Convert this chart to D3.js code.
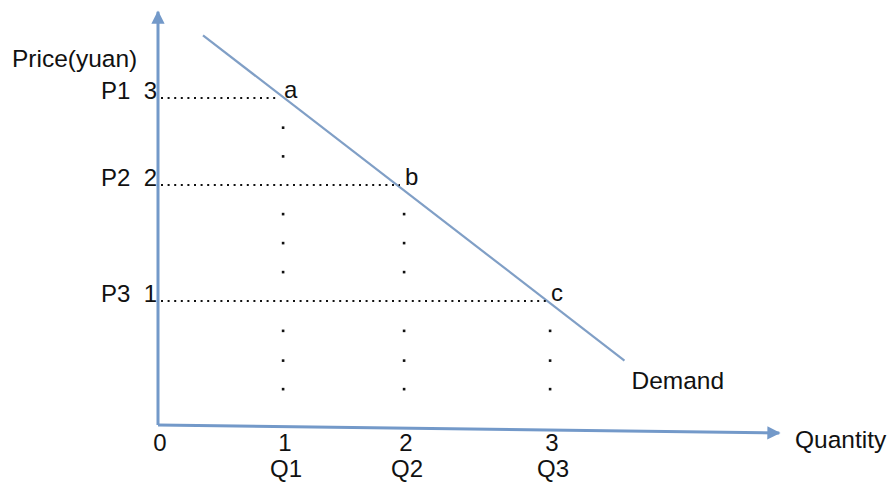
<!DOCTYPE html>
<html>
<head>
<meta charset="utf-8">
<script src="https://cdn.jsdelivr.net/npm/d3@7"></script>
<style>
  body { margin: 0; background: #fff; }
  text { font-family: "Liberation Sans", Arial, sans-serif; fill: #111; }
</style>
</head>
<body>
<svg id="svg"></svg>
<script>
// quantities and prices for the three marked points on the demand curve
var quantities = [1, 2, 3];
var prices = [3, 2, 1];
var pointNames = ["a", "b", "c"];
var priceNames = ["P1", "P2", "P3"];
var qtyNames = ["Q1", "Q2", "Q3"];

// demand line end points (quantity, price)
var demandQ = [0.36, 3.51];
var demandP = [3.72, 0.52];

// price levels where the vertical guide dots sit
var dotPrices = [2.66, 2.33, 1.75, 1.5, 1.25, 0.76, 0.52, 0.29];

// axis extents (quantity end of x axis, price end of y axis)
var axisQEnd = 4.57;
var axisPEnd = 3.99;
var axisDrop = -0.065; // the x axis sags slightly to the right

var width = 890, height = 482;
var axisColor = "#7399c9";

var svg = d3.select("#svg").attr("width", width).attr("height", height);

// hand drawn picture: spacing isn't even, so piecewise linear scales
var xScale = d3.scaleLinear().domain([0, 1, 2, 3]).range([158, 283, 404, 550]);
var yScale = d3.scaleLinear().domain([0, 1, 2, 3]).range([425, 301, 185, 98]);

var defs = svg.append("defs");
defs.append("marker")
    .attr("id", "arrow")
    .attr("viewBox", "0 0 10 10")
    .attr("refX", 9).attr("refY", 5)
    .attr("markerWidth", 4.6).attr("markerHeight", 4.4)
    .attr("markerUnits", "strokeWidth")
    .attr("orient", "auto")
    .append("path")
    .attr("d", "M0,0 L10,5 L0,10 Z")
    .attr("fill", axisColor);

var line = d3.line().x(d => xScale(d[0])).y(d => yScale(d[1]));

// axes
svg.append("path")
    .datum([[0, 0], [0, axisPEnd]])
    .attr("d", line)
    .attr("stroke", axisColor).attr("stroke-width", 3).attr("fill", "none")
    .attr("marker-end", "url(#arrow)");

svg.append("path")
    .datum([[0, 0], [axisQEnd, axisDrop]])
    .attr("d", line)
    .attr("stroke", axisColor).attr("stroke-width", 3).attr("fill", "none")
    .attr("marker-end", "url(#arrow)");

// demand line
svg.append("path")
    .datum([[demandQ[0], demandP[0]], [demandQ[1], demandP[1]]])
    .attr("d", line)
    .attr("stroke", "#809fc6").attr("stroke-width", 2.2).attr("fill", "none");

// horizontal dotted guides
svg.selectAll(".hguide")
    .data(quantities)
    .join("line")
    .attr("class", "hguide")
    .attr("x1", xScale(0) + 3)
    .attr("x2", (d, i) => xScale(d) - 4)
    .attr("y1", (d, i) => yScale(prices[i]))
    .attr("y2", (d, i) => yScale(prices[i]))
    .attr("stroke", "#111").attr("stroke-width", 2)
    .attr("stroke-dasharray", "2 4.6");

// vertical guide dots
var vdots = [];
quantities.forEach((q, i) => {
    dotPrices.filter(p => p < prices[i]).forEach(p => vdots.push({q: q, p: p}));
});
svg.selectAll(".vdot")
    .data(vdots)
    .join("rect")
    .attr("class", "vdot")
    .attr("x", d => xScale(d.q) - 1.2)
    .attr("y", d => yScale(d.p) - 1.2)
    .attr("width", 2.6).attr("height", 2.6)
    .attr("fill", "#111");

// point labels a, b, c
svg.selectAll(".plabel")
    .data(pointNames)
    .join("text")
    .attr("class", "plabel")
    .attr("x", (d, i) => xScale(quantities[i]) + 1)
    .attr("y", (d, i) => yScale(prices[i]))
    .attr("font-size", 24)
    .text(d => d);

// price labels on y axis
svg.selectAll(".ylabel")
    .data(prices)
    .join("text")
    .attr("class", "ylabel")
    .attr("x", xScale(0) - 1)
    .attr("y", d => yScale(d) + 1)
    .attr("text-anchor", "end")
    .attr("font-size", 24)
    .attr("xml:space", "preserve")
    .text((d, i) => priceNames[i] + "  " + d);

// quantity tick labels
svg.selectAll(".xlabel")
    .data([0].concat(quantities))
    .join("text")
    .attr("class", "xlabel")
    .attr("x", d => xScale(d) + 2)
    .attr("y", 451)
    .attr("text-anchor", "middle")
    .attr("font-size", 24)
    .text(d => d);

svg.selectAll(".qlabel")
    .data(quantities)
    .join("text")
    .attr("class", "qlabel")
    .attr("x", d => xScale(d) + 3)
    .attr("y", 477)
    .attr("text-anchor", "middle")
    .attr("font-size", 24)
    .text((d, i) => qtyNames[i]);

// titles
svg.append("text").attr("x", 12).attr("y", 67).attr("font-size", 24.5).text("Price(yuan)");
svg.append("text").attr("x", 795).attr("y", 448).attr("font-size", 24.5).text("Quantity");
svg.append("text")
    .attr("x", xScale(demandQ[1]) + 7)
    .attr("y", yScale(demandP[1]) + 28)
    .attr("font-size", 24.5)
    .text("Demand");
</script>
</body>
</html>
